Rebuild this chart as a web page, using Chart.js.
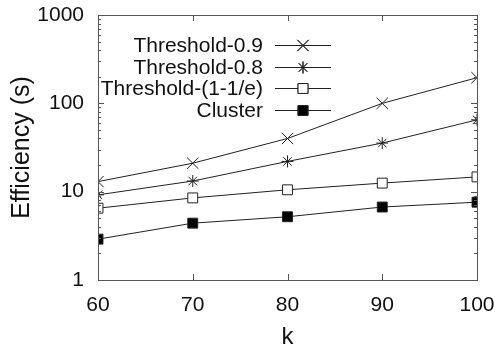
<!DOCTYPE html>
<html>
<head>
<meta charset="utf-8">
<script src="https://cdn.jsdelivr.net/npm/chart.js@4/dist/chart.umd.min.js"></script>
<style>
  html, body { margin: 0; padding: 0; background: #fff; }
  #wrap { width: 495px; height: 345px; }
</style>
</head>
<body>
<div id="wrap"><canvas id="chart" width="495" height="345"></canvas></div>
<script>
const kValues = [60, 70, 80, 90, 100];
const seriesNames = ["Threshold-0.9", "Threshold-0.8", "Threshold-(1-1/e)", "Cluster"];
const threshold09 = [13, 21, 40, 100, 195];
const threshold08 = [9.2, 13.2, 22, 35.5, 65];
const thresholdE = [6.5, 8.5, 10.5, 12.5, 14.7];
const cluster = [2.9, 4.4, 5.2, 6.7, 7.6];
const yTickLabels = [1, 10, 100, 1000];

const FONT = "'Liberation Sans', Arial, sans-serif";
const ink = "#222";

function makeSet(label, values, style, radius, fill) {
  return {
    label,
    data: kValues.map((k, i) => ({ x: k, y: values[i] })),
    borderColor: ink,
    borderWidth: 1,
    pointStyle: style,
    pointRadius: radius,
    pointBorderColor: ink,
    pointBorderWidth: 1,
    pointBackgroundColor: fill,
    fill: false,
    tension: 0
  };
}

function noPad(s) {
  s.paddingLeft = 0; s.paddingRight = 0; s.paddingTop = 0; s.paddingBottom = 0;
}

/* ticks pointing inward on all four sides, plus the frame */
const frameTicks = {
  id: "frameTicks",
  afterDatasetsDraw(chart) {
    const { ctx, chartArea: a, scales } = chart;
    ctx.save();
    ctx.strokeStyle = "#555";
    ctx.lineWidth = 1;
    ctx.strokeRect(a.left + 0.5, a.top + 0.5, a.right - a.left, a.bottom - a.top);
    ctx.beginPath();
    kValues.forEach(k => {
      const x = Math.round(scales.x.getPixelForValue(k)) + 0.5;
      ctx.moveTo(x, a.bottom); ctx.lineTo(x, a.bottom - 6);
      ctx.moveTo(x, a.top); ctx.lineTo(x, a.top + 6);
    });
    for (let d = 1; d < 1000; d *= 10) {
      for (let m = 1; m <= 10; m++) {
        const v = d * m;
        const y = Math.round(scales.y.getPixelForValue(v)) + 0.5;
        const len = (m === 1 || m === 10) ? 6 : 3;
        ctx.moveTo(a.left, y); ctx.lineTo(a.left + len, y);
        ctx.moveTo(a.right, y); ctx.lineTo(a.right - len, y);
      }
    }
    ctx.stroke();
    ctx.restore();
  }
};

/* gnuplot-style key: text on the left, sample line + marker on the right */
const sideKey = {
  id: "sideKey",
  afterDraw(chart) {
    const { ctx } = chart;
    const rows = [45, 67, 88, 110];
    ctx.save();
    ctx.font = "21px " + FONT;
    ctx.textAlign = "right";
    ctx.textBaseline = "middle";
    chart.data.datasets.forEach((ds, i) => {
      const y = rows[i];
      ctx.fillStyle = "#111";
      ctx.fillText(ds.label, 263, y + 1);
      ctx.strokeStyle = ink;
      ctx.lineWidth = 1;
      ctx.beginPath();
      ctx.moveTo(275, y + 0.5); ctx.lineTo(331, y + 0.5);
      ctx.stroke();
      Chart.helpers.drawPoint(ctx, {
        pointStyle: ds.pointStyle, radius: ds.pointRadius, borderWidth: 1, rotation: 0
      }, 303, y + 0.5);
      ctx.fillStyle = ds.pointBackgroundColor;
      ctx.strokeStyle = ink;
      ctx.fill();
      ctx.stroke();
    });
    ctx.restore();
  }
};

new Chart(document.getElementById("chart"), {
  type: "line",
  data: {
    datasets: [
      makeSet(seriesNames[0], threshold09, "crossRot", 8, "#fff"),
      makeSet(seriesNames[1], threshold08, "star", 6, "#fff"),
      makeSet(seriesNames[2], thresholdE, "rect", 7, "#fff"),
      makeSet(seriesNames[3], cluster, "rect", 7, "#000")
    ]
  },
  options: {
    responsive: false,
    animation: false,
    layout: { padding: { top: 15, right: 18, left: 0, bottom: 0 } },
    plugins: { legend: { display: false }, tooltip: { enabled: false } },
    scales: {
      x: {
        type: "linear",
        min: 60, max: 100,
        afterBuildTicks: s => { s.ticks = kValues.map(v => ({ value: v })); },
        grid: { display: false, drawTicks: false },
        border: { display: false },
        ticks: { color: "#111", font: { family: FONT, size: 21 }, padding: 13 },
        title: { display: true, text: "k", color: "#111", font: { family: FONT, size: 24 }, padding: { top: 0, bottom: -7 } },
        afterFit: s => { s.height = 65; noPad(s); }
      },
      y: {
        type: "logarithmic",
        min: 1, max: 1000,
        afterBuildTicks: s => { s.ticks = yTickLabels.map(v => ({ value: v })); },
        grid: { display: false, drawTicks: false },
        border: { display: false },
        ticks: { color: "#111", font: { family: FONT, size: 21 }, padding: 14, callback: v => String(v) },
        title: { display: true, text: "Efficiency (s)", color: "#111", font: { family: FONT, size: 25 }, padding: { top: 7, bottom: 0 } },
        afterFit: s => { s.width = 98; noPad(s); }
      }
    }
  },
  plugins: [frameTicks, sideKey]
});
</script>
</body>
</html>
